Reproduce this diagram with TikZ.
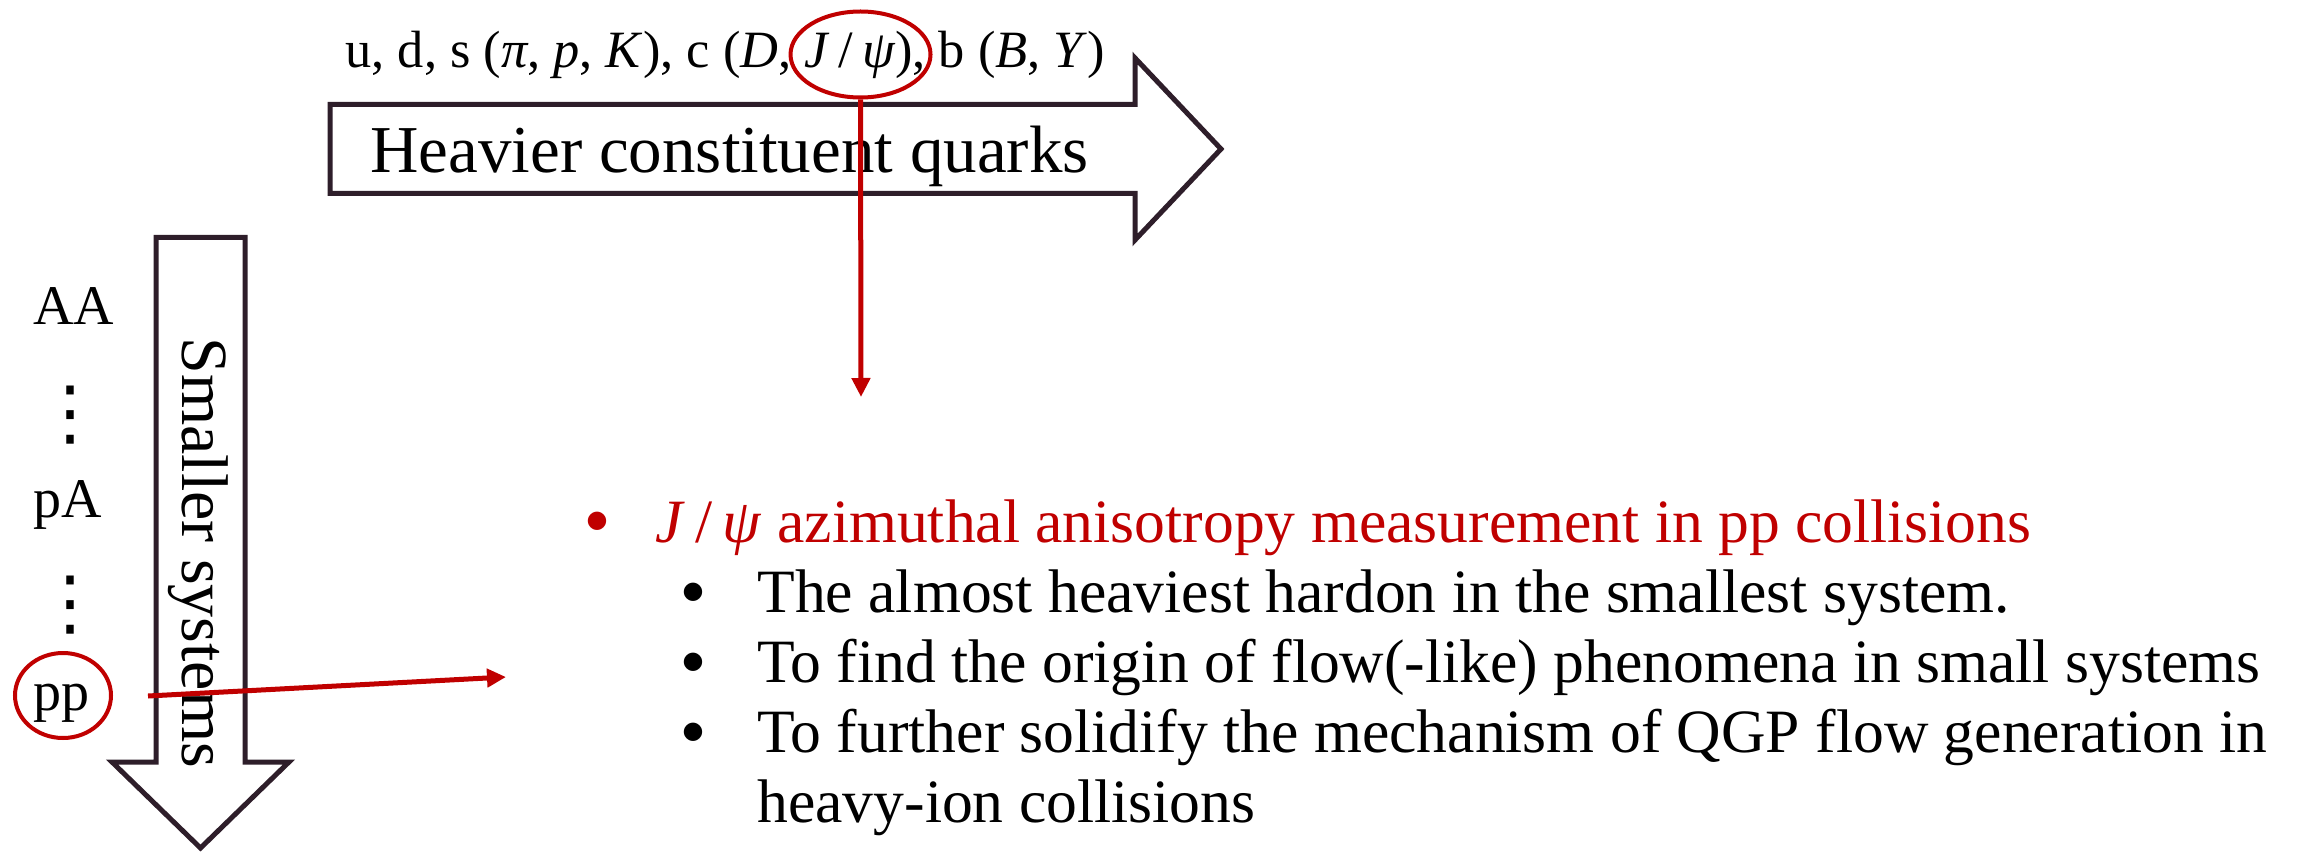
\documentclass[tikz,border=0pt]{standalone}
\usepackage{fontspec}
\setmainfont{Liberation Serif}
\newfontfamily\symfont{DejaVu Sans}
\usetikzlibrary{arrows.meta,shapes.geometric}
\definecolor{arrowdark}{HTML}{2E1E2A}
\definecolor{hlred}{HTML}{C00000}
\begin{document}
\begin{tikzpicture}[x=0.5pt,y=-0.5pt,
  bigarrow/.style={draw=arrowdark,line width=2.5pt,line join=miter,fill=white},
  redline/.style={draw=hlred,line width=2.5pt,-{Triangle[width=9pt,length=9.5pt]}},
  ring/.style={draw=hlred,line width=2pt,ellipse,inner sep=0pt},
  lbl/.style={inner sep=0pt,anchor=base west,font=\fontsize{28pt}{34pt}\selectfont},
  dotnode/.style={inner sep=0pt,anchor=center,font=\symfont\fontsize{36pt}{36pt}\selectfont},
  body/.style={inner sep=0pt,anchor=base west,font=\fontsize{30.8pt}{35pt}\selectfont},
  bul/.style={inner sep=0pt,anchor=center,font=\symfont\fontsize{12pt}{12pt}\selectfont}
]
\useasboundingbox (0,0) rectangle (2300,855);

% big arrows
\draw[bigarrow] (330,104.5) -- (1135,104.5) -- (1135,58) -- (1221,149) -- (1135,240) -- (1135,193.5) -- (330,193.5) -- cycle;
\draw[bigarrow] (156,237.5) -- (245,237.5) -- (245,762) -- (289,762) -- (200.5,848) -- (112,762) -- (156,762) -- cycle;

% arrow texts
\node (heavier) [inner sep=0pt,anchor=base west,font=\fontsize{33.5pt}{40pt}\selectfont] at (370,173) {Heavier constituent quarks};
\node (smaller) [inner sep=0pt,anchor=base west,rotate=-90,font=\fontsize{33pt}{40pt}\selectfont] at (182,337) {Smaller systems};

% top label
\node (quarks) [inner sep=0pt,anchor=base west,font=\fontsize{26.2pt}{32pt}\selectfont] at (345,68)
  {u, d, s (\textit{π}, \textit{p}, \textit{K}), c (\textit{D}, \textit{J}\,/\,\textit{ψ}), b (\textit{B}, \textit{Υ})};

% systems
\node (AA) [lbl] at (33,325) {AA};
\node (dots1) [dotnode] at (70,415) {⋮};
\node (pA) [lbl] at (33,517) {pA};
\node (dots2) [dotnode] at (70,605) {⋮};
\node (pp) [lbl] at (33,710) {pp};

% red rings
\node (jring) [ring,minimum width=70pt,minimum height=43pt] at (860.5,54.5) {};
\node (ppring) [ring,minimum width=48pt,minimum height=42.5pt] at (63,695.5) {};

% bullet list
\node (b0dot) [bul,text=hlred] at (597,521) {●};
\node (b0) [body,text=hlred] at (655,542) {\textit{J}\,/\,\textit{ψ} azimuthal anisotropy measurement in pp collisions};
\node (b1dot) [bul] at (693,592) {●};
\node (b1) [body] at (757,612) {The almost heaviest hardon in the smallest system.};
\node (b2dot) [bul] at (693,662) {●};
\node (b2) [body] at (757,682) {To find the origin of flow(-like) phenomena in small systems};
\node (b3dot) [bul] at (693,732) {●};
\node (b3) [body] at (757,752) {To further solidify the mechanism of QGP flow generation in};
\node (b3b) [body] at (757,822) {heavy-ion collisions};

% red connectors
\coordinate (jtip) at (861,397);
\coordinate (ppstart) at (148,696);
\coordinate (pptip) at (506,677);
\draw[redline] (jring.south) -- (jtip);
\draw[redline] (ppstart) -- (pptip);
\end{tikzpicture}
\end{document}
